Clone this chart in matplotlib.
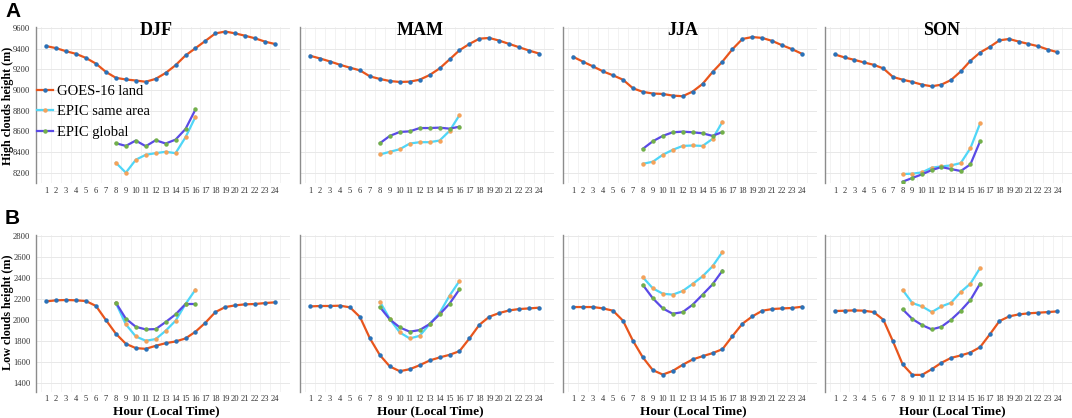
import numpy as np
import matplotlib
matplotlib.use('Agg')
import matplotlib.pyplot as plt
import matplotlib.transforms as mtransforms

# Horas e estações
hours = np.arange(1, 25)
epic_hours = np.arange(8, 17)
seasons = ['DJF', 'MAM', 'JJA', 'SON']

# Nuvens altas (m)
goes_high = {
    'DJF': [9425, 9405, 9375, 9350, 9310, 9255, 9175, 9118, 9102, 9092, 9080, 9108,
            9165, 9240, 9335, 9405, 9476, 9548, 9566, 9548, 9525, 9500, 9468, 9445],
    'MAM': [9331, 9305, 9276, 9244, 9216, 9190, 9132, 9107, 9087, 9078, 9081, 9100,
            9145, 9209, 9296, 9385, 9446, 9497, 9504, 9478, 9446, 9414, 9382, 9353],
    'JJA': [9321, 9273, 9228, 9180, 9142, 9100, 9017, 8982, 8966, 8962, 8946, 8940,
            8985, 9059, 9174, 9276, 9395, 9494, 9513, 9504, 9475, 9433, 9395, 9350],
    'SON': [9344, 9315, 9292, 9267, 9244, 9209, 9126, 9100, 9078, 9052, 9036, 9052,
            9097, 9180, 9283, 9363, 9417, 9481, 9494, 9469, 9446, 9424, 9392, 9366],
}
epic_same_high = {
    'DJF': [8296, 8200, 8325, 8373, 8389, 8402, 8389, 8543, 8741],
    'MAM': [8376, 8402, 8427, 8482, 8495, 8495, 8511, 8604, 8757],
    'JJA': [8286, 8306, 8373, 8421, 8459, 8463, 8459, 8527, 8693],
    'SON': [8187, 8190, 8203, 8248, 8261, 8270, 8293, 8437, 8677],
}
epic_global_high = {
    'DJF': [8485, 8459, 8511, 8456, 8514, 8482, 8520, 8623, 8812],
    'MAM': [8485, 8556, 8594, 8600, 8632, 8632, 8636, 8626, 8645],
    'JJA': [8431, 8504, 8556, 8591, 8597, 8591, 8581, 8556, 8594],
    'SON': [8113, 8149, 8184, 8225, 8254, 8235, 8216, 8280, 8504],
}

# Nuvens baixas (m)
goes_low = {
    'DJF': [2173, 2183, 2186, 2183, 2176, 2129, 1995, 1865, 1769, 1728, 1721, 1750,
            1775, 1791, 1820, 1884, 1970, 2071, 2119, 2135, 2145, 2148, 2157, 2164],
    'MAM': [2125, 2129, 2129, 2132, 2116, 2024, 1820, 1661, 1553, 1508, 1527, 1565,
            1610, 1639, 1664, 1699, 1820, 1950, 2027, 2062, 2087, 2100, 2106, 2113],
    'JJA': [2119, 2119, 2119, 2106, 2084, 1989, 1798, 1639, 1518, 1476, 1511, 1569,
            1620, 1651, 1680, 1718, 1842, 1960, 2030, 2084, 2100, 2106, 2110, 2122],
    'SON': [2081, 2084, 2087, 2084, 2071, 1998, 1791, 1572, 1473, 1473, 1527, 1588,
            1635, 1658, 1686, 1737, 1858, 1985, 2030, 2049, 2059, 2065, 2071, 2078],
}
epic_same_low = {
    'DJF': [2157, 1954, 1839, 1798, 1814, 1893, 1989, 2148, 2285],
    'MAM': [2170, 2005, 1877, 1820, 1845, 1957, 2062, 2227, 2367],
    'JJA': [2402, 2297, 2246, 2237, 2272, 2339, 2412, 2507, 2644],
    'SON': [2281, 2157, 2125, 2071, 2125, 2160, 2262, 2342, 2491],
}
epic_global_low = {
    'DJF': [2160, 2008, 1931, 1906, 1909, 1976, 2049, 2148, 2148],
    'MAM': [2119, 2001, 1925, 1884, 1900, 1957, 2049, 2151, 2288],
    'JJA': [2329, 2202, 2106, 2055, 2071, 2141, 2237, 2335, 2466],
    'SON': [2097, 2005, 1947, 1906, 1931, 1998, 2084, 2186, 2342],
}

serif = 'Liberation Serif'
plt.rcParams['font.family'] = serif

W, H = 1072, 418
fig = plt.figure(figsize=(W / 100, H / 100), dpi=100)

lefts = [36, 300, 563, 825]
slope = 9.95  # px por hora
x0 = -0.03
rows = [
    dict(top=27, bot=183, ylim=(8100, 9610), yticks=np.arange(8200, 9601, 200),
         goes=goes_high, same=epic_same_high, glob=epic_global_high, pad=3,
         ylabel='High clouds height (m)', yc=106),
    dict(top=235, bot=392, ylim=(1310, 2805), yticks=np.arange(1400, 2801, 200),
         goes=goes_low, same=epic_same_low, glob=epic_global_low, pad=2,
         ylabel='Low clouds height (m)', yc=312),
]

for r, row in enumerate(rows):
    for c, s in enumerate(seasons):
        left = lefts[c]
        width = min(254, W - left)
        ax = fig.add_axes([left / W, 1 - row['bot'] / H, width / W,
                           (row['bot'] - row['top']) / H])
        ax.set_xlim(x0, x0 + width / slope)
        ax.set_ylim(*row['ylim'])
        ax.set_xticks(hours)
        ax.set_xticks(np.arange(0.5, 26, 1), minor=True)
        ax.set_yticks(row['yticks'])
        ax.grid(True, which='major', axis='y', color='#e8e8e8', lw=0.7)
        ax.grid(True, which='minor', axis='x', color='#f0f0f0', lw=0.6)
        ax.set_axisbelow(True)
        for sp in ['top', 'right', 'bottom']:
            ax.spines[sp].set_visible(False)
        ax.spines['left'].set_color('#8c8c8c')
        ax.spines['left'].set_linewidth(1.0)
        ax.tick_params(which='both', length=0)
        ax.tick_params(axis='x', labelsize=6.1, pad=row['pad'], colors='#333333')
        ax.tick_params(axis='y', labelsize=6.1, pad=4, colors='#333333')
        if c > 0:
            ax.set_yticklabels([])

        ax.plot(hours, row['goes'][s], color='#e8551c', lw=1.6,
                marker='o', ms=2.2, mfc='#2a72b8', mec='#2a72b8',
                label='GOES-16 land', zorder=3)
        ax.plot(epic_hours, row['same'][s], color='#4fd6f7', lw=1.6,
                marker='o', ms=2.2, mfc='#f5a25a', mec='#f5a25a',
                label='EPIC same area', zorder=4)
        ax.plot(epic_hours, row['glob'][s], color='#5a4ae6', lw=1.6,
                marker='o', ms=2.2, mfc='#72b04a', mec='#72b04a',
                label='EPIC global', zorder=4)

        trans = mtransforms.blended_transform_factory(ax.transData, ax.transAxes)
        if r == 0:
            ax.text(12.0, 0.975, s, transform=trans, ha='center', va='center',
                    fontsize=13, fontweight='bold', family=serif)
        else:
            ax.text(13.1, -0.125, 'Hour (Local Time)', transform=trans,
                    ha='center', va='center', fontsize=9.5, fontweight='bold',
                    family=serif)

        if r == 0 and c == 0:
            ax.legend(loc='upper left', bbox_to_anchor=(0.005, 0.63),
                      frameon=False, fontsize=10.5, handlelength=1.1,
                      handletextpad=0.25, labelspacing=0.5, borderpad=0,
                      borderaxespad=0, numpoints=1)

    fig.text(8 / W, 1 - row['yc'] / H, row['ylabel'],
             rotation=90, ha='center', va='center', fontsize=8.7,
             fontweight='bold', family=serif)

fig.text(5 / W, 1 - 2 / H, 'A', ha='left', va='top', fontsize=15,
         fontweight='bold', family='Liberation Sans')
fig.text(5 / W, 1 - 209 / H, 'B', ha='left', va='top', fontsize=15,
         fontweight='bold', family='Liberation Sans')

fig.savefig('out.png', dpi=100)
